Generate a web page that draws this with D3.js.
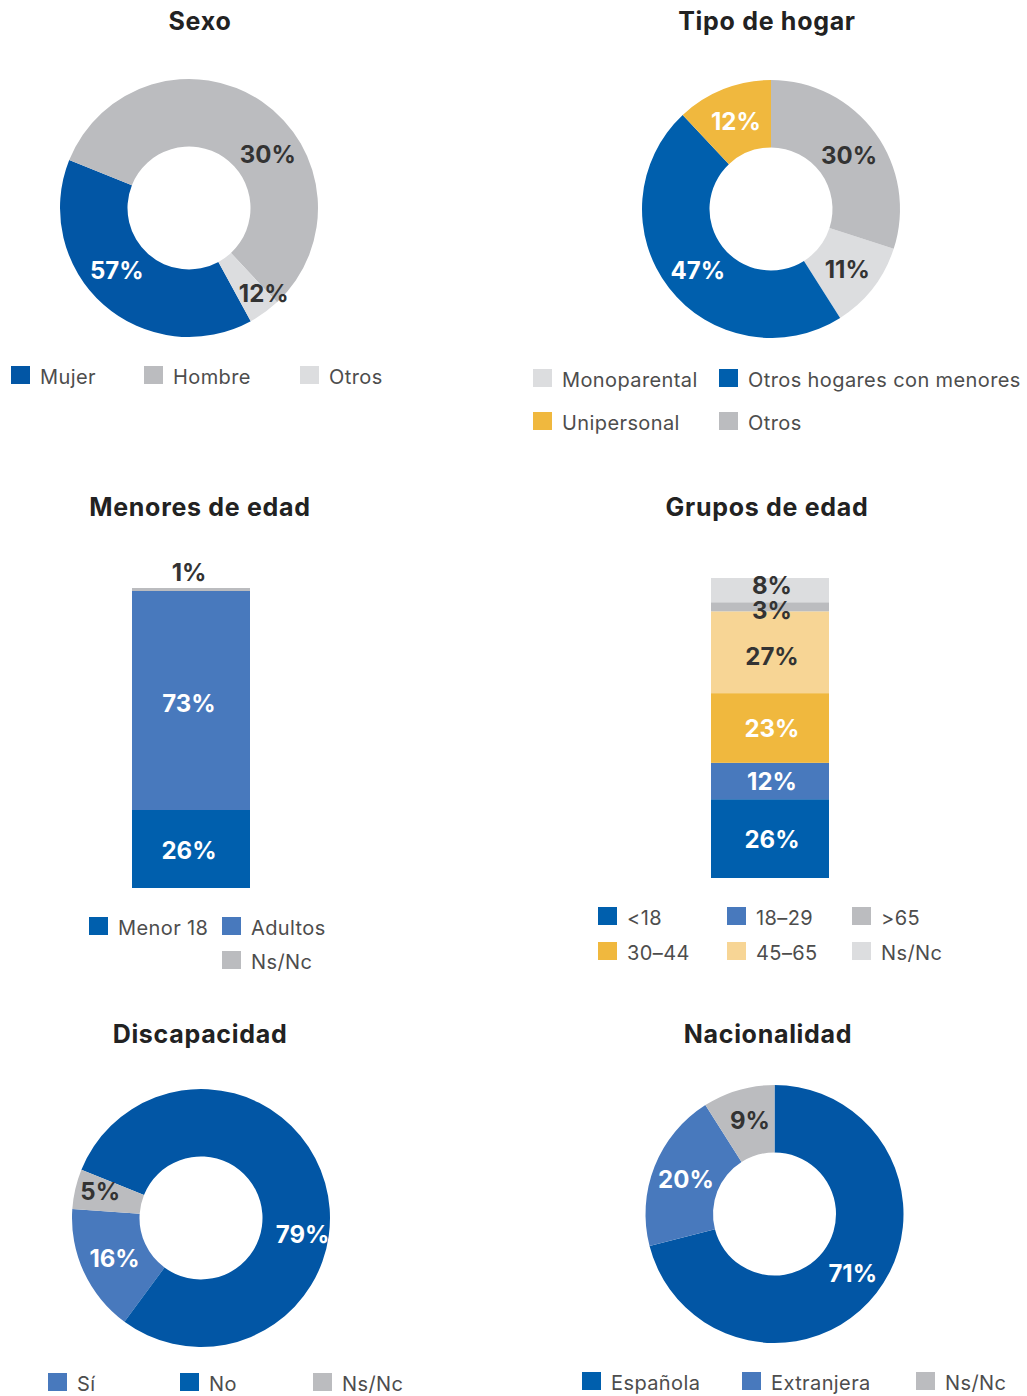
<!DOCTYPE html>
<html>
<head>
<meta charset="utf-8">
<script src="https://cdn.jsdelivr.net/npm/d3@7"></script>
<style>
  body { margin: 0; background: #fff; }
  text { font-family: Inter, "Open Sans", sans-serif; }
</style>
</head>
<body>
<script>
// ---- data ----
const sexoCats = ['Mujer', 'Hombre', 'Otros'];
const sexoVals = [39, 57, 4];             // slice sizes as drawn
const sexoLabels = ['57%', '30%', '12%']; // labels as printed

const hogarCats = ['Monoparental', 'Otros hogares con menores', 'Unipersonal', 'Otros'];
const hogarVals = [11, 47, 12, 30];
const hogarLabels = ['11%', '47%', '12%', '30%'];

const menoresCats = ['Menor 18', 'Adultos', 'Ns/Nc'];
const menoresVals = [26, 73, 1];
const menoresLabels = ['26%', '73%', '1%'];

const gruposCats = ['<18', '18–29', '30–44', '45–65', '>65', 'Ns/Nc'];
const gruposVals = [26, 12, 23, 27, 3, 8];
const gruposLabels = ['26%', '12%', '23%', '27%', '3%', '8%'];

const discCats = ['Sí', 'No', 'Ns/Nc'];
const discVals = [16, 79, 5];
const discLabels = ['16%', '79%', '5%'];

const nacCats = ['Española', 'Extranjera', 'Ns/Nc'];
const nacVals = [71, 20, 9];
const nacLabels = ['71%', '20%', '9%'];

// colours
const BLUE = '#0256a5', BLUE2 = '#005fad', MID = '#4879bd', GREY = '#bbbcbf',
      LIGHT = '#dcdddf', YEL = '#f0b83e', LYEL = '#f7d595';

let svg = d3.select('body').append('svg').attr('width', 1027).attr('height', 1396);

let darkText = c => d3.hsl(c).l > 0.7;

// title helper
let title = (x, y, t) => svg.append('text').attr('x', x).attr('y', y)
  .attr('text-anchor', 'middle').attr('font-size', 25).attr('font-weight', 700)
  .attr('letter-spacing', 0.7).attr('fill', '#222').text(t);

// legend helper: slots = [[col,row],...], cols = x positions, rows = y of swatch top
let legend = (cats, colors, cols, rows, slots) => {
  let g = svg.append('g');
  cats.forEach((c, i) => {
    let x = cols[slots[i][0]], y = rows[slots[i][1]];
    g.append('rect').attr('x', x).attr('y', y).attr('width', 19).attr('height', 18).attr('fill', colors[i]);
    g.append('text').attr('x', x + 29).attr('y', y + 18).attr('font-size', 20)
      .attr('letter-spacing', 0.4).attr('fill', '#4d4d4d').text(c);
  });
};

// donut helper
let donut = (cfg) => {
  let a0 = cfg.start * Math.PI / 180;
  let pie = d3.pie().sort(null).value(d => d)
    .startAngle(a0).endAngle(a0 + cfg.dir * 2 * Math.PI);
  let arc = d3.arc().innerRadius(61.5).outerRadius(129);
  let g = svg.append('g').attr('transform', `translate(${cfg.cx},${cfg.cy})`);
  let arcs = pie(cfg.vals);
  g.selectAll('path').data(arcs).join('path').attr('d', arc)
    .attr('fill', (d, i) => cfg.colors[i]);
  g.selectAll('text').data(arcs).join('text')
    .attr('x', (d, i) => arc.centroid(d)[0] + (cfg.shift[i] ? cfg.shift[i][0] : 0))
    .attr('y', (d, i) => arc.centroid(d)[1] + (cfg.shift[i] ? cfg.shift[i][1] : 0))
    .attr('dy', '0.36em').attr('text-anchor', 'middle')
    .attr('font-size', 24).attr('font-weight', 700)
    .attr('fill', (d, i) => darkText(cfg.colors[i]) ? '#333' : '#fff')
    .text((d, i) => cfg.labels[i]);
};

// stacked bar helper
let stackBar = (cfg) => {
  let y = d3.scaleLinear().domain([0, d3.sum(cfg.vals)]).range([cfg.bottom, cfg.bottom - 300]);
  let cum = d3.cumsum(cfg.vals);
  let segs = cfg.vals.map((v, i) => ({v, lo: cum[i] - v, hi: cum[i], c: cfg.colors[i], lab: cfg.labels[i]}));
  let g = svg.append('g');
  g.selectAll('rect').data(segs).join('rect')
    .attr('x', cfg.x).attr('width', 118)
    .attr('y', d => y(d.hi)).attr('height', d => y(d.lo) - y(d.hi))
    .attr('fill', d => d.c);
  g.selectAll('text').data(segs).join('text')
    .attr('x', cfg.x + 59 + cfg.dx)
    .attr('y', (d, i) => {
      let h = y(d.lo) - y(d.hi);
      let base = h < 6 ? y(d.hi) - 14 : (y(d.lo) + y(d.hi)) / 2;
      return base + (cfg.nudge[i] || 0);
    })
    .attr('dy', '0.36em').attr('text-anchor', 'middle')
    .attr('font-size', 24).attr('font-weight', 700)
    .attr('fill', d => (y(d.lo) - y(d.hi) < 6 || darkText(d.c)) ? '#333' : '#fff')
    .text(d => d.lab);
};

// ---- Sexo ----
title(200, 30, 'Sexo');
let sexoColors = [BLUE, GREY, LIGHT];
donut({cx: 189, cy: 208, start: 151.4, dir: 1, vals: sexoVals, labels: sexoLabels,
  colors: sexoColors, shift: [[-9, -9], [25, 25], [19, 8]]});
legend(sexoCats, sexoColors, [11, 144, 300], [366], [[0, 0], [1, 0], [2, 0]]);

// ---- Tipo de hogar ----
title(767, 30, 'Tipo de hogar');
let hogarColors = [LIGHT, BLUE2, YEL, GREY];
donut({cx: 771, cy: 209, start: 108, dir: 1, vals: hogarVals, labels: hogarLabels,
  colors: hogarColors, shift: [[1, 2], [2, 3], [0, 1], [1, 2]]});
legend(hogarCats, hogarColors, [533, 719], [369, 412], [[0, 0], [1, 0], [0, 1], [1, 1]]);

// ---- Menores de edad ----
title(200, 516, 'Menores de edad');
let menoresColors = [BLUE2, MID, GREY];
stackBar({x: 132, bottom: 888, dx: -2, vals: menoresVals, labels: menoresLabels,
  colors: menoresColors, nudge: [1, 3, -2]});
legend(menoresCats, menoresColors, [89, 222], [917, 951], [[0, 0], [1, 0], [1, 1]]);

// ---- Grupos de edad ----
title(767, 516, 'Grupos de edad');
let gruposColors = [BLUE2, MID, YEL, LYEL, GREY, LIGHT];
stackBar({x: 711, bottom: 878, dx: 2, vals: gruposVals, labels: gruposLabels,
  colors: gruposColors, nudge: [1, 0, 0, 4, 4, -5]});
legend(gruposCats, gruposColors, [598, 727, 852], [907, 942],
  [[0, 0], [1, 0], [0, 1], [1, 1], [2, 0], [2, 1]]);

// ---- Discapacidad ----
title(200, 1043, 'Discapacidad');
let discColors = [MID, BLUE, GREY];
donut({cx: 201, cy: 1218, start: -86, dir: -1, vals: discVals, labels: discLabels,
  colors: discColors, shift: [[0, 0], [10, 42], [-8, -5]]});
legend(discCats, [MID, BLUE2, GREY], [48, 180, 313], [1373], [[0, 0], [1, 0], [2, 0]]);

// ---- Nacionalidad ----
title(768, 1043, 'Nacionalidad');
let nacColors = [BLUE, MID, GREY];
donut({cx: 774.5, cy: 1214, start: 0, dir: 1, vals: nacVals, labels: nacLabels,
  colors: nacColors, shift: [[3, 1], [0, 0], [2, -2]]});
legend(nacCats, [BLUE2, MID, GREY], [582, 742, 916], [1372], [[0, 0], [1, 0], [2, 0]]);
</script>
</body>
</html>
